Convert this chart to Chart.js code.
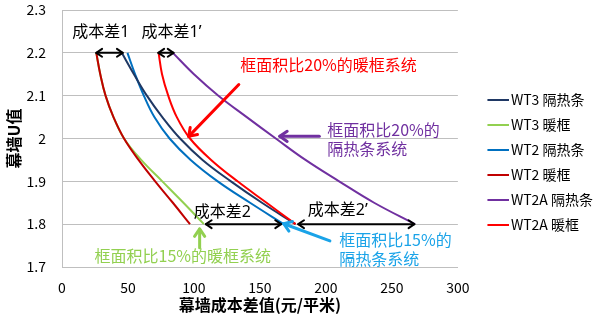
<!DOCTYPE html>
<html>
<head>
<meta charset="utf-8">
<script src="https://cdn.jsdelivr.net/npm/chart.js@4/dist/chart.umd.min.js"></script>
<style>
  html, body { margin: 0; padding: 0; background: #fff; }
  #wrap { width: 600px; height: 322px; }
</style>
</head>
<body>
<div id="wrap"><canvas id="chart"></canvas></div>
<script>
// U值 levels (y) shared by every curve
const uLevels = [2.2, 2.15, 2.1, 2.05, 2.0, 1.95, 1.9, 1.85, 1.8];
const seriesNames = ['WT3 隔热条', 'WT3 暖框', 'WT2 隔热条', 'WT2 暖框', 'WT2A 隔热条', 'WT2A 暖框'];
// cost difference (元/平米) at each U level
const wt3Spacer  = [45.3, 54.5, 64.3, 76, 89.5, 106.5, 128, 151.5, 177];
const wt3Warm    = [26, 29, 33, 39, 47, 60, 76, 92, 107.5];
const wt2Spacer  = [49.6, 55.4, 62, 70, 81.5, 97.5, 118, 142.5, 168];
const wt2Warm    = [26, 29, 33, 39, 47, 58, 70.6, 84, 97];
const wt2aSpacer = [84, 100, 118.5, 140, 162, 184.5, 210, 236.5, 267.5];
const wt2aWarm   = [73.2, 75.8, 80.5, 87, 97, 113, 133, 155, 177];
const seriesColors = ['#1F3864', '#92D050', '#0070C0', '#C00000', '#7030A0', '#FF0000'];
const seriesOrder = [2, 3, 2, 0, 2, 1]; // warm-edge reds on top

// axis ticks
const xTicks = [0, 50, 100, 150, 200, 250, 300];
const yTicks = [1.7, 1.8, 1.9, 2.0, 2.1, 2.2, 2.3];

// callouts drawn on the chart
const costGapLabels = [
  { text: '成本差1',  x: 29.5, y: 2.247 },
  { text: '成本差1’', x: 83,   y: 2.247 },
  { text: '成本差2',  x: 121.5, y: 1.828 },
  { text: '成本差2’', x: 209,  y: 1.833 }
];
const costGapArrows = [
  { from: 26,  to: 46,   u: 2.2 },
  { from: 73,  to: 84.5, u: 2.2 },
  { from: 109, to: 166,  u: 1.8 },
  { from: 179, to: 267,  u: 1.8 }
];
const systemLabels = [
  { lines: ['框面积比20%的暖框系统'], x: 202, y: 2.172, align: 'center', color: '#FF0000' },
  { lines: ['框面积比20%的', '隔热条系统'], x: 201, y: 2.021, align: 'left', color: '#7030A0' },
  { lines: ['框面积比15%的', '隔热条系统'], x: 210, y: 1.763, align: 'left', color: '#1AA3E8' },
  { lines: ['框面积比15%的暖框系统'], x: 91.5, y: 1.725, align: 'center', color: '#92D050' }
];
const systemArrows = [
  { x1: 134, y1: 2.126, x2: 96,  y2: 2.005, color: '#FF0000' },
  { x1: 195, y1: 2.005, x2: 165, y2: 2.005, color: '#7030A0' },
  { x1: 203, y1: 1.761, x2: 168, y2: 1.801, color: '#1AA3E8' },
  { x1: 104.3, y1: 1.745, x2: 104.3, y2: 1.789, color: '#92D050' }
];

const FONT = '"Noto Sans CJK SC", "Noto Sans", sans-serif';
const LATIN_FIRST = '"Noto Sans", "Noto Sans CJK SC", sans-serif';
const seriesValues = [wt3Spacer, wt3Warm, wt2Spacer, wt2Warm, wt2aSpacer, wt2aWarm];

// legend swatch: short line sitting at the right of a wider box
function swatch(color) {
  const c = document.createElement('canvas');
  c.width = 46; c.height = 4;
  const g = c.getContext('2d');
  g.fillStyle = color;
  g.fillRect(24, 1, 22, 2);
  return c;
}

function head(ctx, x, y, ang, len) {
  ctx.beginPath();
  ctx.moveTo(x + len * Math.cos(ang + 0.6), y + len * Math.sin(ang + 0.6));
  ctx.lineTo(x, y);
  ctx.lineTo(x + len * Math.cos(ang - 0.6), y + len * Math.sin(ang - 0.6));
  ctx.stroke();
}

const callouts = {
  id: 'callouts',
  afterDatasetsDraw(chart) {
    const ctx = chart.ctx, xs = chart.scales.x, ys = chart.scales.y;
    ctx.save();
    ctx.lineCap = 'round';
    ctx.lineJoin = 'round';
    ctx.strokeStyle = '#000';
    ctx.lineWidth = 2;
    costGapArrows.forEach(a => {
      const x1 = xs.getPixelForValue(a.from), x2 = xs.getPixelForValue(a.to), y = ys.getPixelForValue(a.u);
      ctx.beginPath(); ctx.moveTo(x1, y); ctx.lineTo(x2, y); ctx.stroke();
      head(ctx, x1, y, 0, 7);
      head(ctx, x2, y, Math.PI, 7);
    });
    ctx.fillStyle = '#000';
    ctx.font = '16px ' + LATIN_FIRST;
    ctx.textAlign = 'center';
    ctx.textBaseline = 'middle';
    costGapLabels.forEach(l => ctx.fillText(l.text, xs.getPixelForValue(l.x), ys.getPixelForValue(l.y)));
    ctx.font = '16px ' + FONT;
    ctx.lineWidth = 3;
    systemArrows.forEach(a => {
      const x1 = xs.getPixelForValue(a.x1), y1 = ys.getPixelForValue(a.y1);
      const x2 = xs.getPixelForValue(a.x2), y2 = ys.getPixelForValue(a.y2);
      ctx.strokeStyle = a.color;
      ctx.beginPath(); ctx.moveTo(x1, y1); ctx.lineTo(x2, y2); ctx.stroke();
      head(ctx, x2, y2, Math.atan2(y1 - y2, x1 - x2), 9);
    });
    systemLabels.forEach(l => {
      ctx.fillStyle = l.color;
      ctx.textAlign = l.align;
      const x = xs.getPixelForValue(l.x);
      let y = ys.getPixelForValue(l.y);
      l.lines.forEach(t => { ctx.fillText(t, x, y); y += 19; });
    });
    ctx.restore();
  }
};

const ctx = document.getElementById('chart').getContext('2d');
new Chart(ctx, {
  type: 'line',
  data: {
    datasets: seriesNames.map((name, i) => ({
      label: name,
      data: uLevels.map((u, k) => ({ x: seriesValues[i][k], y: u })),
      borderColor: seriesColors[i],
      backgroundColor: seriesColors[i],
      borderWidth: 2,
      pointRadius: 0,
      pointStyle: swatch(seriesColors[i]),
      fill: false,
      tension: 0.4,
      order: seriesOrder[i]
    }))
  },
  options: {
    responsive: true,
    maintainAspectRatio: false,
    animation: false,
    layout: { padding: { top: 10, right: -3, left: 4, bottom: 7 } },
    plugins: {
      tooltip: { enabled: false },
      legend: {
        position: 'right',
        labels: {
          usePointStyle: true,
          pointStyleWidth: 35,
          color: '#000',
          padding: 11,
          font: { size: 14, family: FONT },
          sort: (a, b) => a.datasetIndex - b.datasetIndex
        }
      }
    },
    scales: {
      x: {
        type: 'linear',
        min: 0, max: 300,
        afterBuildTicks: s => { s.ticks = xTicks.map(v => ({ value: v })); },
        afterFit: s => { s.height = 48; s.paddingRight = 8; },
        ticks: { color: '#000', padding: 12, font: { size: 14, family: FONT } },
        grid: { display: false, drawTicks: false },
        border: { display: true, color: '#BFBFBF' },
        title: { display: true, text: '幕墙成本差值(元/平米)', color: '#000', padding: 0,
                 font: { size: 16, weight: 'bold', family: FONT } }
      },
      y: {
        type: 'linear',
        min: 1.7, max: 2.3,
        afterBuildTicks: s => { s.ticks = yTicks.map(v => ({ value: v })); },
        afterFit: s => { s.width = 58; s.paddingTop = 8; s.paddingBottom = 8; },
        ticks: { color: '#000', padding: 16, font: { size: 14, family: FONT },
                 callback: v => String(Math.round(v * 10) / 10) },
        grid: { color: '#BFBFBF', drawTicks: false },
        border: { display: true, color: '#BFBFBF' },
        title: { display: true, text: '幕墙U值', color: '#000', padding: 0,
                 font: { size: 16, weight: 'bold', family: FONT } }
      }
    }
  },
  plugins: [callouts]
});
</script>
</body>
</html>
